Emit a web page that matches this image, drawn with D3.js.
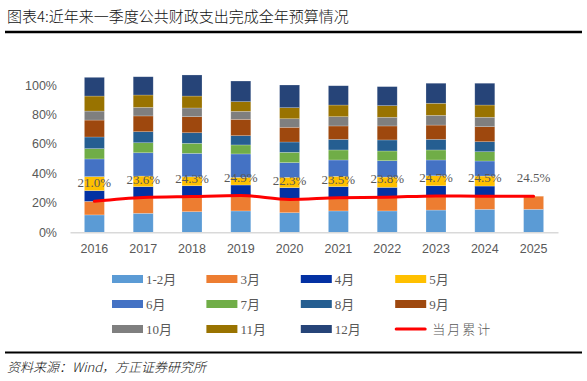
<!DOCTYPE html>
<html>
<head>
<meta charset="utf-8">
<script src="https://cdn.jsdelivr.net/npm/d3@7"></script>
<style>
  body { margin: 0; background: #fff; }
</style>
</head>
<body>
<div id="chart"></div>
<script>
// years on the x axis
const years = ['2016', '2017', '2018', '2019', '2020', '2021', '2022', '2023', '2024', '2025'];
const monthNames = ['1-2月', '3月', '4月', '5月', '6月', '7月', '8月', '9月', '10月', '11月', '12月'];

// share of full-year budget spent in each month (%)
const m1_2 = [11.8, 12.9, 14.0, 14.5, 13.3, 14.5, 14.5, 15.1, 15.6, 15.6];
const m3 = [9.2, 10.7, 10.3, 10.4, 9.0, 9.0, 9.3, 9.6, 8.9, 8.9];
const m4 = [7.3, 7.4, 7.3, 7.2, 8.0, 7.5, 6.7, 6.9, 6.9, 0];
const m5 = [9.5, 7.2, 6.1, 5.2, 7.0, 7.0, 7.0, 6.8, 6.8, 0];
const m6 = [12.0, 15.8, 15.9, 15.9, 10.0, 11.1, 11.1, 10.7, 10.2, 0];
const m7 = [7.0, 6.8, 6.8, 6.1, 7.0, 6.8, 6.6, 6.8, 6.3, 0];
const m8 = [7.9, 7.5, 7.2, 6.3, 7.0, 7.2, 7.5, 7.2, 6.8, 0];
const m9 = [11.5, 10.7, 10.9, 11.1, 10.0, 9.1, 9.5, 9.7, 10.2, 0];
const m10 = [6.1, 5.8, 5.9, 5.4, 5.8, 6.3, 5.9, 6.6, 6.4, 0];
const m11 = [10.2, 8.4, 8.1, 6.6, 7.5, 7.9, 7.9, 8.2, 8.3, 0];
const m12 = [12.7, 12.4, 14.3, 14.0, 15.4, 13.1, 12.9, 13.6, 14.8, 0];

// cumulative through March (red line)
const cumMar = [21.0, 23.6, 24.3, 24.9, 22.3, 23.5, 23.8, 24.7, 24.5, 24.5];

const yTicks = [0, 20, 40, 60, 80, 100];

const colors = ['#5B9BD5', '#ED7D31', '#0331A3', '#FFC000', '#4472C4', '#70AD47',
    '#255E91', '#9E480E', '#7F7F7F', '#997300', '#264478'];

const width = 587;
const height = 381;

const svg = d3
    .select('#chart')
    .append('svg')
    .attr('width', width)
    .attr('height', height);

// title + rule
svg.append('text')
    .attr('x', 7)
    .attr('y', 22)
    .style('font-family', '"Noto Sans CJK SC", sans-serif')
    .style('font-size', '15px')
    .style('font-weight', 300)
    .style('fill', '#111')
    .text('图表4:近年来一季度公共财政支出完成全年预算情况');

svg.append('line')
    .attr('x1', 5).attr('x2', 582)
    .attr('y1', 32).attr('y2', 32)
    .attr('stroke', '#000')
    .attr('stroke-width', 2.5);

// build table for stacking
const series = [m1_2, m3, m4, m5, m6, m7, m8, m9, m10, m11, m12];
const table = years.map((yr, i) => {
    const row = { year: yr };
    monthNames.forEach((m, k) => { row[m] = series[k][i]; });
    return row;
});

const stacked = d3.stack().keys(monthNames)(table);

const x = d3.scaleBand()
    .domain(years)
    .range([70, 558])
    .paddingInner(0.59)
    .paddingOuter(0.295);

const y = d3.scaleLinear()
    .domain([0, 100])
    .range([232.3, 85]);

const color = d3.scaleOrdinal().domain(monthNames).range(colors);

// y tick labels (no axis line)
svg.append('g')
    .selectAll('text')
    .data(yTicks)
    .join('text')
    .attr('x', 57)
    .attr('y', d => y(d) + 4.5)
    .attr('text-anchor', 'end')
    .style('font-family', '"Liberation Sans", Arial, sans-serif')
    .style('font-size', '12.5px')
    .style('fill', '#595959')
    .text(d => d + '%');

// bars
svg.append('g')
    .selectAll('g')
    .data(stacked)
    .join('g')
    .attr('fill', d => color(d.key))
    .selectAll('rect')
    .data(d => d.filter(p => p[1] - p[0] > 0))
    .join('rect')
    .attr('x', d => x(d.data.year))
    .attr('width', x.bandwidth())
    .attr('y', d => y(d[1]))
    .attr('height', d => y(d[0]) - y(d[1]))
    .attr('stroke', '#ffffff')
    .attr('stroke-opacity', 0.35)
    .attr('stroke-width', 0.6);

// x axis
const xAxis = d3.axisBottom(x).tickSize(0).tickPadding(12);
const gx = svg.append('g')
    .attr('transform', 'translate(0,' + y(0) + ')')
    .call(xAxis);
gx.select('.domain')
    .attr('stroke', '#D9D9D9')
    .attr('stroke-width', 1.5);
gx.selectAll('text')
    .style('font-family', '"Liberation Sans", Arial, sans-serif')
    .style('font-size', '12.5px')
    .style('fill', '#595959');

// cumulative line
const line = d3.line()
    .x((d, i) => x(years[i]) + x.bandwidth() / 2)
    .y(d => y(d))
    .curve(d3.curveMonotoneX);

svg.append('path')
    .datum(cumMar)
    .attr('fill', 'none')
    .attr('stroke', '#FF0000')
    .attr('stroke-width', 3)
    .attr('stroke-linecap', 'round')
    .attr('d', line);

// data labels
svg.append('g')
    .selectAll('text')
    .data(cumMar)
    .join('text')
    .attr('x', (d, i) => x(years[i]) + x.bandwidth() / 2)
    .attr('y', d => y(d) - 14)
    .attr('text-anchor', 'middle')
    .style('font-family', '"Liberation Serif", "Times New Roman", serif')
    .style('font-size', '13px')
    .style('fill', '#595959')
    .text(d => d.toFixed(1) + '%');

// legend
const legendItems = monthNames.concat(['当月累计']);
const legend = svg.append('g')
    .selectAll('g')
    .data(legendItems)
    .join('g')
    .attr('transform', (d, i) => 'translate(' + (112 + (i % 4) * 94.4) + ',' + (279 + Math.floor(i / 4) * 25) + ')');

legend.filter((d, i) => i < 11)
    .append('rect')
    .attr('x', 0)
    .attr('y', -4)
    .attr('width', 31)
    .attr('height', 8)
    .attr('fill', d => color(d));

legend.filter((d, i) => i === 11)
    .append('line')
    .attr('x1', 1).attr('x2', 30)
    .attr('y1', 0).attr('y2', 0)
    .attr('stroke', '#FF0000')
    .attr('stroke-width', 3)
    .attr('stroke-linecap', 'round');

legend.append('text')
    .attr('x', (d, i) => i === 11 ? 37 : 34)
    .attr('y', 5)
    .style('font-family', '"Liberation Serif", "Noto Sans CJK SC", serif')
    .style('font-size', '13px')
    .style('font-weight', (d, i) => i === 11 ? 300 : 400)
    .style('letter-spacing', (d, i) => i === 11 ? '2px' : '0px')
    .style('fill', '#595959')
    .text(d => d);

// footer
svg.append('line')
    .attr('x1', 5).attr('x2', 582)
    .attr('y1', 352.5).attr('y2', 352.5)
    .attr('stroke', '#000')
    .attr('stroke-width', 2);

svg.append('text')
    .attr('x', 7)
    .attr('y', 372)
    .style('font-family', '"Noto Sans CJK SC", sans-serif')
    .style('font-size', '13px')
    .style('font-style', 'italic')
    .style('font-weight', 300)
    .style('fill', '#111')
    .text('资料来源：Wind，方正证券研究所');
</script>
</body>
</html>
